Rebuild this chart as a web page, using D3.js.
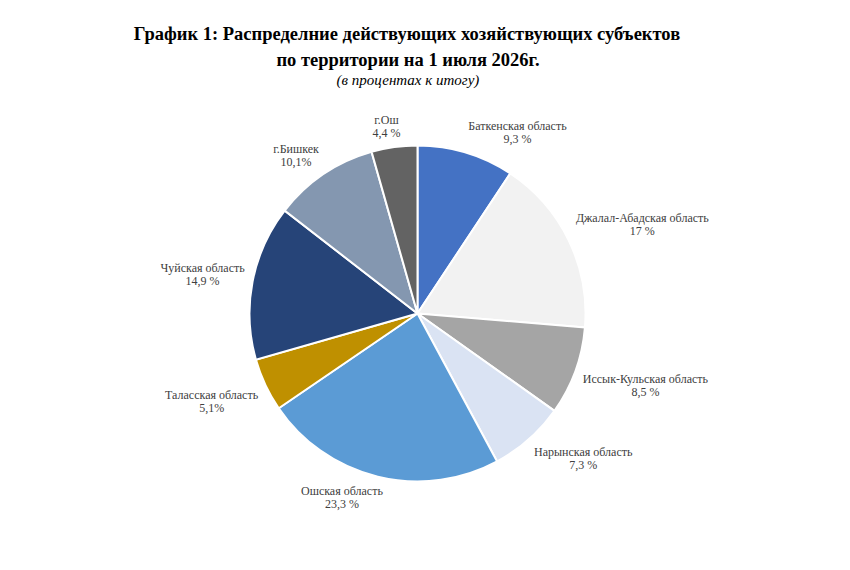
<!DOCTYPE html>
<html lang="ru">
<head>
  <meta charset="utf-8">
  <title>График 1</title>
  <script src="https://cdnjs.cloudflare.com/ajax/libs/d3/7.8.5/d3.min.js"></script>
  <style>
    body { margin: 0; background: #fff; }
    .title { font-family: "Liberation Serif", "Times New Roman", serif; font-weight: bold; font-size: 18.5px; fill: #000; }
    .subtitle { font-family: "Liberation Serif", "Times New Roman", serif; font-style: italic; font-size: 15px; fill: #000; }
    .label { font-family: "Liberation Serif", "Times New Roman", serif; font-size: 12px; fill: #404040; }
    .slice { stroke: #fff; stroke-width: 2; }
  </style>
</head>
<body>
<svg id="chart"></svg>
<script>
  // data
  var regions = ["Баткенская область", "Джалал-Абадская область", "Иссык-Кульская область",
    "Нарынская область", "Ошская область", "Таласская область", "Чуйская область",
    "г.Бишкек", "г.Ош"];
  var shares = [9.3, 17, 8.5, 7.3, 23.3, 5.1, 14.9, 10.1, 4.4];
  var shareLabels = ["9,3 %", "17 %", "8,5 %", "7,3 %", "23,3 %", "5,1%", "14,9 %", "10,1%", "4,4 %"];
  var colors = ["#4472c4", "#f2f2f2", "#a5a5a5", "#dae3f3", "#5b9bd5", "#bf9000", "#264478", "#8497b0", "#636363"];

  var width = 850, height = 570;
  var cx = 417.5, cy = 313.5, radius = 168;

  var svg = d3.select("#chart")
    .attr("width", width)
    .attr("height", height);

  // titles
  svg.append("text").attr("class", "title")
    .attr("x", 407).attr("y", 40).attr("text-anchor", "middle")
    .text("График 1: Распределние действующих хозяйствующих субъектов");
  svg.append("text").attr("class", "title")
    .attr("x", 408).attr("y", 66).attr("text-anchor", "middle")
    .text("по территории на 1 июля 2026г.");
  svg.append("text").attr("class", "subtitle")
    .attr("x", 408).attr("y", 85).attr("text-anchor", "middle")
    .text("(в процентах к итогу)");

  var data = regions.map(function (r, i) {
    return { name: r, value: shares[i], label: shareLabels[i], color: colors[i] };
  });

  var pie = d3.pie().sort(null).value(function (d) { return d.value; });
  var arc = d3.arc().innerRadius(0).outerRadius(radius);
  var arcs = pie(data);

  var g = svg.append("g").attr("transform", "translate(" + cx + "," + cy + ")");

  g.selectAll("path.slice")
    .data(arcs)
    .enter().append("path")
    .attr("class", "slice")
    .attr("fill", function (d) { return d.data.color; })
    .attr("d", arc);

  // labels outside the pie: nearest corner of the text box sits just off the rim
  var gap = 8, lineH = 13;
  var labels = g.selectAll("g.lbl")
    .data(arcs)
    .enter().append("g")
    .attr("class", "lbl");

  labels.each(function (d) {
    var node = d3.select(this);
    var t1 = node.append("text").attr("class", "label").attr("text-anchor", "middle").text(d.data.name);
    var t2 = node.append("text").attr("class", "label").attr("text-anchor", "middle").text(d.data.label);
    var w = Math.max(t1.node().getComputedTextLength(), t2.node().getComputedTextLength());
    var h = lineH * 2;
    var a = (d.startAngle + d.endAngle) / 2;
    var dx = Math.sin(a), dy = -Math.cos(a);
    var px = dx * (radius + gap), py = dy * (radius + gap);
    var sx = Math.max(-1, Math.min(1, dx * 3.5));
    var sy = Math.max(-1, Math.min(1, dy * 2.5));
    var bx = px + sx * w / 2;
    var by = py + sy * h / 2;
    t1.attr("x", bx).attr("y", by - 2);
    t2.attr("x", bx).attr("y", by + lineH - 2);
  });
</script>
</body>
</html>
